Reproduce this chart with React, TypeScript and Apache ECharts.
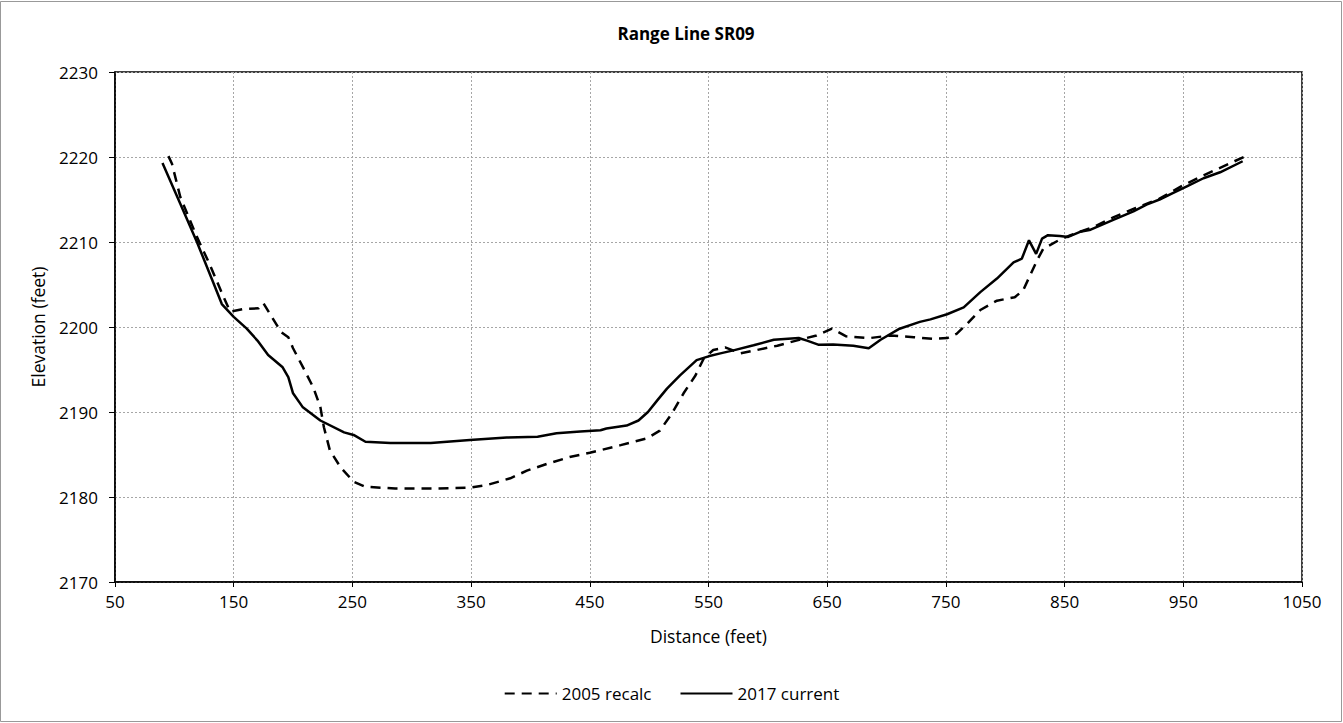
import React, { useEffect, useRef } from "react";
import * as echarts from "echarts";

const title = "Range Line SR09";
const xAxisName = "Distance (feet)";
const yAxisName = "Elevation (feet)";
const seriesNames = ["2005 recalc", "2017 current"];

const dist2005 = [95, 98, 105, 119, 130, 140, 147, 158, 171, 175, 182, 190, 196, 200, 209, 217, 223, 226, 231, 240, 251, 261, 286, 320, 349, 363, 383, 397, 414, 433, 450, 476, 498, 509, 519, 529, 539, 546, 554, 564, 577, 591, 608, 624, 641, 654, 666, 686, 703, 723, 740, 751, 759, 768, 779, 793, 808, 815, 821, 827, 832, 845, 855, 875, 891, 910, 930, 949, 965, 979, 1001];
const elev2005 = [2220.1, 2219.2, 2215.3, 2210.6, 2207.3, 2204.0, 2201.8, 2202.1, 2202.2, 2202.8, 2201.2, 2199.4, 2198.8, 2197.5, 2195.1, 2192.9, 2190.6, 2188.2, 2185.5, 2183.5, 2181.8, 2181.2, 2181.0, 2181.0, 2181.1, 2181.4, 2182.2, 2183.1, 2183.9, 2184.7, 2185.2, 2186.1, 2186.9, 2187.8, 2189.8, 2192.2, 2194.3, 2196.3, 2197.3, 2197.6, 2196.9, 2197.3, 2197.8, 2198.4, 2199.0, 2199.8, 2198.9, 2198.7, 2199.0, 2198.8, 2198.6, 2198.7, 2199.2, 2200.4, 2202.0, 2203.1, 2203.5, 2204.3, 2206.1, 2207.9, 2209.2, 2210.2, 2210.8, 2211.8, 2212.9, 2214.0, 2215.1, 2216.6, 2217.7, 2218.6, 2220.0];

const dist2017 = [90, 105, 119, 132, 140, 150, 161, 170, 179, 191, 196, 200, 208, 223, 243, 251, 261, 282, 316, 349, 380, 406, 422, 442, 459, 464, 481, 491, 499, 507, 515, 526, 540, 550, 560, 571, 588, 605, 626, 633, 643, 655, 672, 685, 695, 711, 728, 737, 751, 765, 779, 793, 807, 814, 820, 826, 831, 836, 846, 853, 863, 871, 891, 908, 919, 930, 942, 953, 967, 981, 1000];
const elev2017 = [2219.3, 2214.5, 2210.0, 2205.5, 2202.7, 2201.2, 2199.8, 2198.4, 2196.7, 2195.3, 2194.1, 2192.2, 2190.6, 2189.0, 2187.6, 2187.3, 2186.5, 2186.35, 2186.35, 2186.7, 2187.0, 2187.1, 2187.5, 2187.7, 2187.85, 2188.05, 2188.4, 2189.0, 2190.0, 2191.4, 2192.75, 2194.3, 2196.1, 2196.55, 2196.9, 2197.25, 2197.85, 2198.5, 2198.7, 2198.4, 2197.9, 2197.95, 2197.8, 2197.5, 2198.5, 2199.8, 2200.6, 2200.9, 2201.5, 2202.3, 2204.1, 2205.7, 2207.6, 2208.05, 2210.2, 2208.6, 2210.4, 2210.8, 2210.7, 2210.6, 2211.2, 2211.4, 2212.6, 2213.6, 2214.4, 2215.0, 2215.8, 2216.55, 2217.5, 2218.2, 2219.5];

const FONT = "'Open Sans', sans-serif";

export default function App() {
  const ref = useRef<HTMLDivElement>(null);
  useEffect(() => {
    document.body.style.margin = "0";
    if (!ref.current) return;
    const chart = echarts.init(ref.current, undefined, { renderer: "svg" });
    const pairs = (xs: number[], ys: number[]) => xs.map((x, i) => [x, ys[i]]);
    chart.setOption({
      animation: false,
      backgroundColor: "#fff",
      title: {
        text: title,
        left: 681,
        top: 20,
        textAlign: "center",
        textStyle: { fontFamily: FONT, fontSize: 17, fontWeight: "bold", color: "#000" },
      },
      graphic: [
        {
          type: "rect",
          shape: { x: 0.5, y: 1.5, width: 1341, height: 720 },
          style: { fill: "none", stroke: "#999", lineWidth: 1 },
          silent: true,
        },
      ],
      legend: {
        top: 680,
        left: "center",
        itemWidth: 52,
        itemHeight: 14,
        itemGap: 28,
        itemStyle: { opacity: 0 },
        textStyle: { fontFamily: FONT, fontSize: 17, color: "#000" },
        data: seriesNames,
      },
      grid: {
        left: 115,
        right: 41,
        top: 72,
        bottom: 141,
        show: true,
        borderColor: "#000",
        borderWidth: 1.5,
      },
      xAxis: {
        type: "value",
        min: 50,
        max: 1050,
        interval: 100,
        name: xAxisName,
        nameLocation: "middle",
        nameGap: 45,
        nameTextStyle: { fontFamily: FONT, fontSize: 17.5, color: "#000" },
        axisLine: { show: true, lineStyle: { color: "#000", width: 1.5 } },
        axisTick: { show: true, length: 5, lineStyle: { color: "#000" } },
        axisLabel: { fontFamily: FONT, fontSize: 17, color: "#000", margin: 11, formatter: (v: number) => String(v) },
        splitLine: { show: true, lineStyle: { color: "#a6a6a6", type: [2, 2], width: 1 } },
      },
      yAxis: {
        type: "value",
        min: 2170,
        max: 2230,
        interval: 10,
        name: yAxisName,
        nameLocation: "middle",
        nameGap: 68,
        nameTextStyle: { fontFamily: FONT, fontSize: 17.5, color: "#000" },
        axisLine: { show: true, lineStyle: { color: "#000", width: 1.5 } },
        axisTick: { show: true, length: 6, lineStyle: { color: "#000" } },
        axisLabel: { fontFamily: FONT, fontSize: 17, color: "#000", margin: 17, formatter: (v: number) => String(v) },
        splitLine: { show: true, lineStyle: { color: "#a6a6a6", type: [2, 2], width: 1 } },
      },
      series: [
        {
          name: seriesNames[0],
          type: "line",
          data: pairs(dist2005, elev2005),
          symbol: "none",
          smooth: false,
          lineStyle: { color: "#000", width: 2.5, type: [10, 7] },
          itemStyle: { color: "#000" },
        },
        {
          name: seriesNames[1],
          type: "line",
          data: pairs(dist2017, elev2017),
          symbol: "none",
          smooth: false,
          lineStyle: { color: "#000", width: 2.5, type: "solid" },
          itemStyle: { color: "#000" },
        },
      ],
    });
    return () => chart.dispose();
  }, []);
  return <div ref={ref} style={{ position: "absolute", left: 0, top: 0, width: 1343, height: 723 }} />;
}
